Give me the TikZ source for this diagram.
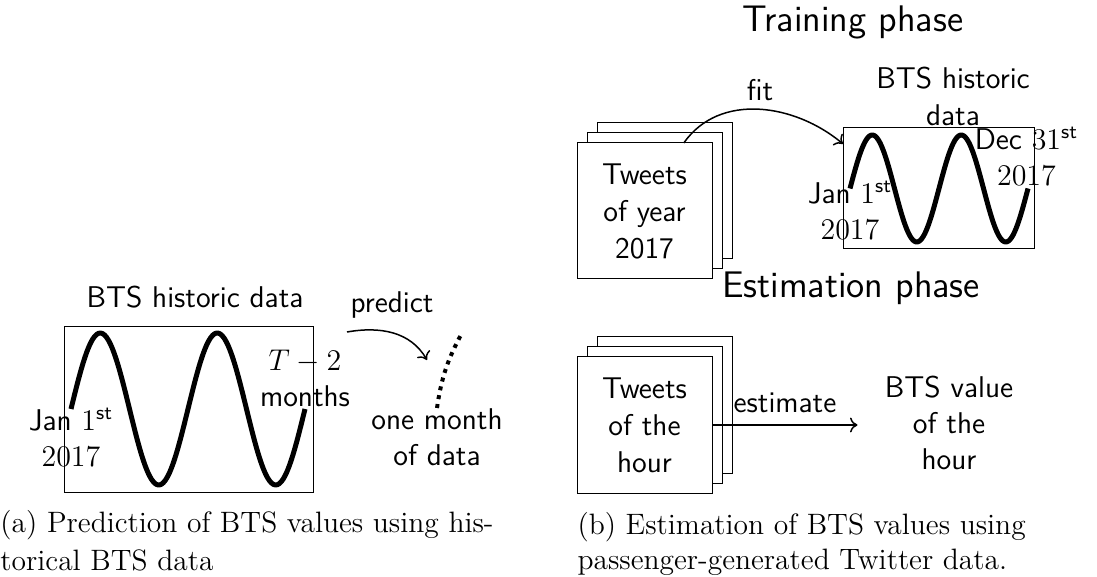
\documentclass[tikz,border=0pt]{standalone}
\usepackage{amsmath}
\usetikzlibrary{calc,arrows.meta}
\begin{document}
\begin{tikzpicture}[x=0.4pt,y=-0.4pt,
  lbl/.style={font=\fontsize{12}{14.5}\selectfont\sffamily, align=center, inner sep=0pt},
  big/.style={font=\fontsize{14.8}{18}\selectfont\sffamily, inner sep=0pt},
  capt/.style={font=\fontsize{11.8}{14}\selectfont\rmfamily, anchor=west, inner sep=0pt},
  frame/.style={draw, line width=0.4pt, inner sep=0pt, outer sep=0pt},
  doc/.style={draw, fill=white, line width=0.4pt, minimum width=135*0.4pt, minimum height=136*0.4pt,
    inner sep=0pt, outer sep=0pt, align=center, font=\fontsize{12}{14.8}\selectfont\sffamily},
  wave/.style={line width=2pt, line join=round},
  conn/.style={-{To[length=3pt,width=6pt]}, line width=0.6pt},
  dots/.style={line width=1.6pt, dash pattern=on 1.6pt off 2pt},
]
\useasboundingbox (0,0) rectangle (1097,577);

% ---------- (a) ----------
\node[frame, minimum width=249*0.4pt, minimum height=165*0.4pt] (histA) at (188.5,409.5) {};
\draw[wave, domain=0:720, samples=120, smooth] plot ({71+\x/720*234}, {409-76*sin(\x)});
\node[lbl] (titleA) at (195,297) {BTS historic data};
\node[lbl] (tA) at (305,378.5) {$T-2$\\months};
\node[lbl] (janA) at (71,437.5) {Jan $1^{\text{st}}$\\$2017$};
\node[lbl] (month) at (437,437.5) {one month\\of data};
\coordinate (pS) at (347,332);
\coordinate (pE) at (427,360);
\draw[conn] (pS) to[out=10,in=120] (pE);
\node[lbl] (predict) at (392,305) {predict};
\coordinate (dB) at (437,408);
\coordinate (dT) at (462,333);
\draw[dots] (dB) to[bend left=10] (dT);

% ---------- (b) training ----------
\node[big] (train) at (853,22) {Training phase};
\node[doc] (ty3) at (664.5,191) {};
\node[doc] (ty2) at (654.5,201) {};
\node[doc] (ty1) at (644.5,211) {Tweets\\of year\\2017};
\node[frame, minimum width=191*0.4pt, minimum height=121*0.4pt] (histB) at (938.5,188.5) {};
\draw[wave, domain=0:720, samples=120, smooth] plot ({850+\x/720*178}, {188.5-53.5*sin(\x)});
\node[lbl] (titleB) at (953,96.5) {BTS historic\\data};
\node[lbl] (dec) at (1026.5,156.5) {Dec $31^{\text{st}}$\\$2017$};
\node[lbl] (janB) at (850,210) {Jan $1^{\text{st}}$\\$2017$};
\draw[conn] (ty1.60) to[out=55,in=140] (histB.155);
\node[lbl] (fit) at (760,90) {fit};

% ---------- (b) estimation ----------
\node[big] (est) at (851,288) {Estimation phase};
\node[doc] (th3) at (664.5,405) {};
\node[doc] (th2) at (654.5,415) {};
\node[doc] (th1) at (644.5,425) {Tweets\\of the\\hour};
\node[lbl, text width=182*0.4pt] (val) at (949,423) {BTS value\\of the\\hour};
\draw[conn] (th1.east) -- (th1.east -| val.west);
\node[lbl] (estimate) at (785,403) {estimate};

% ---------- captions ----------
\node[capt] (capA1) at (0,525) {(a) Prediction of BTS values using his-};
\node[capt] (capA2) at (0,560) {torical BTS data};
\node[capt] (capB1) at (577,527) {(b) Estimation of BTS values using};
\node[capt] (capB2) at (577,562) {passenger-generated Twitter data.};
\end{tikzpicture}
\end{document}
